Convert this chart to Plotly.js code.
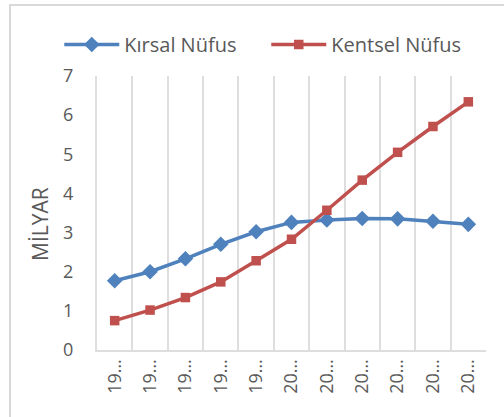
<!DOCTYPE html>
<html>
<head>
<meta charset="utf-8">
<script src="https://cdn.plot.ly/plotly-3.0.1.min.js"></script>
<style>html,body{margin:0;padding:0;background:#fff;}#chart{width:504px;height:417px;}</style>
</head>
<body>
<div id="chart"></div>
<script>
const years = ['1950','1960','1970','1980','1990','2000','2010','2020','2030','2040','2050'];
const tickLabels = ['19…','19…','19…','19…','19…','20…','20…','20…','20…','20…','20…'];
const kirsal = [1.77, 2.00, 2.33, 2.70, 3.02, 3.26, 3.32, 3.36, 3.35, 3.29, 3.21];
const kentsel = [0.75, 1.02, 1.34, 1.74, 2.28, 2.83, 3.57, 4.34, 5.05, 5.71, 6.34];
const seriesNames = ['Kırsal Nüfus', 'Kentsel Nüfus'];
const yTitle = 'MİLYAR';

const FONT = '"Open Sans", "Liberation Sans", sans-serif';
const GRAY = '#595959';

const traces = [
  {x: years, y: kirsal, name: seriesNames[0], type: 'scatter', mode: 'lines+markers',
   line: {color: '#4f81bd', width: 3.5}, marker: {symbol: 'diamond', size: 12, color: '#4f81bd'}},
  {x: years, y: kentsel, name: seriesNames[1], type: 'scatter', mode: 'lines+markers',
   line: {color: '#c0504d', width: 3.5}, marker: {symbol: 'square', size: 9.5, color: '#c0504d'}}
];

const layout = {
  width: 504, height: 417,
  margin: {l: 97, r: 18, t: 76, b: 67},
  paper_bgcolor: '#fff', plot_bgcolor: '#fff',
  font: {family: FONT, color: GRAY, size: 18},
  showlegend: true,
  legend: {orientation: 'h', x: -0.097, xanchor: 'left', y: 1.115, yanchor: 'middle',
    bgcolor: 'rgba(0,0,0,0)', itemwidth: 55,
    font: {family: FONT, size: 20, color: GRAY}, entrywidth: 137, entrywidthmode: 'pixels'},
  xaxis: {type: 'category', tickmode: 'array', tickvals: years, ticktext: tickLabels,
    tickangle: -90, tickson: 'boundaries', ticks: '', showgrid: true, gridcolor: '#dedede', gridwidth: 2,
    showline: true, linecolor: '#dedede', linewidth: 2, range: [-0.5, 10.5],
    tickfont: {family: FONT, size: 18, color: GRAY}, zeroline: false},
  yaxis: {range: [0, 7], dtick: 1, showgrid: false, zeroline: false,
    showline: true, linecolor: '#dedede', linewidth: 2,
    ticklabelstandoff: 18,
    tickfont: {family: FONT, size: 18, color: GRAY}},
  annotations: [{text: yTitle, textangle: -90, xref: 'paper', yref: 'paper',
    x: -0.1465, y: 0.46, xanchor: 'center', yanchor: 'middle', showarrow: false,
    font: {family: FONT, size: 21, color: GRAY}}],
  shapes: [{type: 'rect', xref: 'paper', yref: 'paper', x0: -0.2237, x1: 2, y0: -1, y1: 1.259,
    line: {color: '#d9d9d9', width: 2}, fillcolor: 'rgba(0,0,0,0)', layer: 'below'}]
};

Plotly.newPlot('chart', traces, layout, {displayModeBar: false, staticPlot: true});
</script>
</body>
</html>
